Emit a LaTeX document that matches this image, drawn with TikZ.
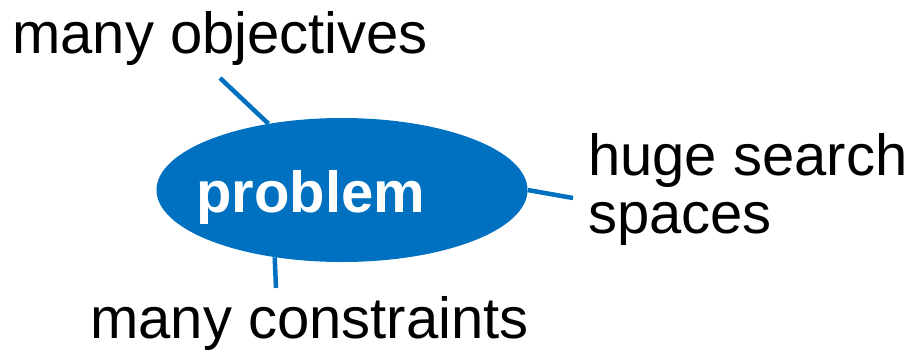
\documentclass[tikz,border=0pt]{standalone}
\usepackage{fontspec}
\setmainfont{Liberation Sans}
\usetikzlibrary{shapes.geometric}
\definecolor{probblue}{HTML}{0070C0}
\tikzset{
  label text/.style={inner sep=0pt, anchor=base west, font=\fontsize{58}{58}\selectfont, text=black},
  link/.style={draw=probblue, line width=4.5pt},
}
\begin{document}
\begin{tikzpicture}[x=1pt, y=-1pt]
  \useasboundingbox (0,0) rectangle (916,351);
  % central problem ellipse
  \node (prob) [ellipse, fill=probblue, minimum width=371pt, minimum height=144pt, inner sep=0pt] at (342,190) {};
  \node (probtxt) [inner sep=0pt, anchor=base west, font=\fontsize{58}{58}\selectfont\bfseries, text=white] at (196,212) {problem};
  % surrounding aspects
  \node (obj) [label text] at (12,53) {many objectives};
  \node (huge) [label text] at (588,175) {huge search};
  \node (spaces) [label text] at (588,233) {spaces};
  \node (cons) [label text] at (90,338) {many constraints};
  % connector ends
  \coordinate (objend) at (220,78);
  \coordinate (hugeend) at (573,198);
  \coordinate (consend) at (276,288);
  \draw[link] (prob.138.7) -- (objend);
  \draw[link] (prob.east) -- (hugeend);
  \draw[link] (prob.225.4) -- (consend);
\end{tikzpicture}
\end{document}
